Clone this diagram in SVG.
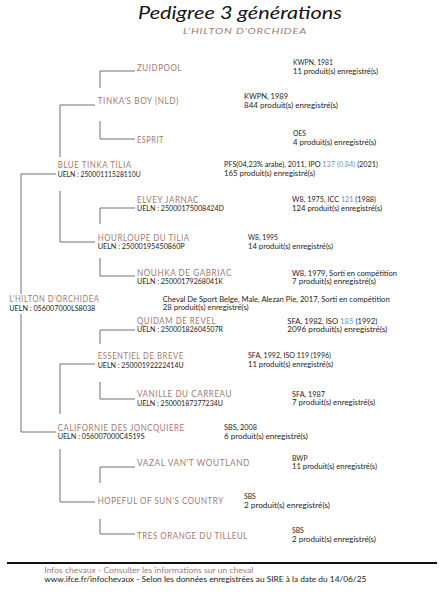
<svg xmlns="http://www.w3.org/2000/svg" width="444" height="600" viewBox="0 0 444 600">
<style>
text{font-family:Lato,"Open Sans","Liberation Sans",sans-serif}
.t{font-size:18px;font-style:italic;font-weight:400;fill:#141414}
.st{font-size:8.5px;font-style:italic;fill:#a47a70;letter-spacing:0.6px}
.n{font-size:8.8px;fill:#a47a70;letter-spacing:0.6px}
.u{font-size:6.6px;fill:#1e1e1e}
.i{font-size:6.8px;fill:#1e1e1e}
.b{fill:#7b8fc4}
.f1{font-size:7.4px;fill:#a47a70}
.f2{font-size:7.4px;fill:#1a1a1a}
.c path{fill:none;stroke:#707070;stroke-width:1}
</style>
<rect width="444" height="600" fill="#fff"/>
<g id="title">
<text class="t" x="138" y="18.5" textLength="204" lengthAdjust="spacingAndGlyphs">Pedigree 3 générations</text>
<text class="st" x="183" y="34" textLength="124" lengthAdjust="spacingAndGlyphs">L'HILTON D'ORCHIDEA</text>
</g>
<g class="c" id="connectors">
<path d="M56 174H21V294M21 314V432H56"/>
<path d="M95 105H60V157M60 191V242H95"/>
<path d="M95 364H60V414M60 449V502H95"/>
<path d="M100 88V71H135M100 121V139H135"/>
<path d="M100 224V208H135M100 258V276H135"/>
<path d="M100 344V330H135M100 382V399H135"/>
<path d="M100 483V467H135M100 519V534H135"/>
</g>
<g id="zuidpool">
<text class="n" x="137" y="71" textLength="45" lengthAdjust="spacingAndGlyphs">ZUIDPOOL</text>
<text class="i" x="293" y="65" textLength="40" lengthAdjust="spacingAndGlyphs">KWPN, 1981</text>
<text class="i" x="293" y="73.5" textLength="85" lengthAdjust="spacingAndGlyphs">11 produit(s) enregistré(s)</text>
</g>
<g id="tinkas-boy">
<text class="n" x="97.7" y="104" textLength="81" lengthAdjust="spacingAndGlyphs">TINKA'S BOY (NLD)</text>
<text class="i" x="244" y="99" textLength="44" lengthAdjust="spacingAndGlyphs">KWPN, 1989</text>
<text class="i" x="244" y="107.5" textLength="94" lengthAdjust="spacingAndGlyphs">844 produit(s) enregistré(s)</text>
</g>
<g id="esprit">
<text class="n" x="137" y="143" textLength="27" lengthAdjust="spacingAndGlyphs">ESPRIT</text>
<text class="i" x="293" y="136">OES</text>
<text class="i" x="293" y="145" textLength="83" lengthAdjust="spacingAndGlyphs">4 produit(s) enregistré(s)</text>
</g>
<g id="blue-tinka-tilia">
<text class="n" x="57.7" y="168" textLength="74" lengthAdjust="spacingAndGlyphs">BLUE TINKA TILIA</text>
<text class="u" x="57.7" y="176.5" textLength="83" lengthAdjust="spacingAndGlyphs">UELN : 25000111528110U</text>
<text class="i" x="224" y="166.7" textLength="154" lengthAdjust="spacingAndGlyphs">PFS(04,23% arabe), 2011, IPO <tspan class="b">137 (0.84)</tspan> (2021)</text>
<text class="i" x="224" y="175.7" textLength="91" lengthAdjust="spacingAndGlyphs">165 produit(s) enregistré(s)</text>
</g>
<g id="elvey-jarnac">
<text class="n" x="137" y="203" textLength="62" lengthAdjust="spacingAndGlyphs">ELVEY JARNAC</text>
<text class="u" x="137" y="211.3" textLength="87" lengthAdjust="spacingAndGlyphs">UELN : 25000175008424D</text>
<text class="i" x="292" y="202" textLength="84" lengthAdjust="spacingAndGlyphs">W8, 1975, ICC <tspan class="b">121</tspan> (1988)</text>
<text class="i" x="292" y="211" textLength="90" lengthAdjust="spacingAndGlyphs">124 produit(s) enregistré(s)</text>
</g>
<g id="hourloupe-du-tilia">
<text class="n" x="97.7" y="241" textLength="92" lengthAdjust="spacingAndGlyphs">HOURLOUPE DU TILIA</text>
<text class="u" x="97.7" y="249.3" textLength="87" lengthAdjust="spacingAndGlyphs">UELN : 25000195450860P</text>
<text class="i" x="248" y="240" textLength="30" lengthAdjust="spacingAndGlyphs">W8, 1995</text>
<text class="i" x="248" y="249" textLength="85" lengthAdjust="spacingAndGlyphs">14 produit(s) enregistré(s)</text>
</g>
<g id="nouhka-de-gabriac">
<text class="n" x="137" y="276" textLength="95" lengthAdjust="spacingAndGlyphs">NOUHKA DE GABRIAC</text>
<text class="u" x="137" y="284.3" textLength="86" lengthAdjust="spacingAndGlyphs">UELN : 25000179268041K</text>
<text class="i" x="292" y="275.7" textLength="105" lengthAdjust="spacingAndGlyphs">W8, 1979, Sorti en compétition</text>
<text class="i" x="292" y="283.7" textLength="84" lengthAdjust="spacingAndGlyphs">7 produit(s) enregistré(s)</text>
</g>
<g id="lhilton-dorchidea">
<text class="n" x="9.3" y="302.3" textLength="90" lengthAdjust="spacingAndGlyphs">L'HILTON D'ORCHIDEA</text>
<text class="u" x="9.3" y="310.7" textLength="86" lengthAdjust="spacingAndGlyphs">UELN : 056007000LS8038</text>
<text class="i" x="162.7" y="302" textLength="227" lengthAdjust="spacingAndGlyphs">Cheval De Sport Belge, Male, Alezan Pie, 2017, Sorti en compétition</text>
<text class="i" x="162.7" y="310.3" textLength="86" lengthAdjust="spacingAndGlyphs">28 produit(s) enregistré(s)</text>
</g>
<g id="quidam-de-revel">
<text class="n" x="137" y="324" textLength="79" lengthAdjust="spacingAndGlyphs">QUIDAM DE REVEL</text>
<text class="u" x="137" y="332.3" textLength="86" lengthAdjust="spacingAndGlyphs">UELN : 25000182604507R</text>
<text class="i" x="287.3" y="324" textLength="90" lengthAdjust="spacingAndGlyphs">SFA, 1982, ISO <tspan class="b">185</tspan> (1992)</text>
<text class="i" x="287.3" y="332.3" textLength="100" lengthAdjust="spacingAndGlyphs">2096 produit(s) enregistré(s)</text>
</g>
<g id="essentiel-de-breve">
<text class="n" x="97.7" y="359" textLength="86" lengthAdjust="spacingAndGlyphs">ESSENTIEL DE BREVE</text>
<text class="u" x="97.7" y="367.7" textLength="86" lengthAdjust="spacingAndGlyphs">UELN : 25000192222414U</text>
<text class="i" x="248" y="358" textLength="83" lengthAdjust="spacingAndGlyphs">SFA, 1992, ISO 119 (1996)</text>
<text class="i" x="248" y="366.7" textLength="85" lengthAdjust="spacingAndGlyphs">11 produit(s) enregistré(s)</text>
</g>
<g id="vanille-du-carreau">
<text class="n" x="137" y="397" textLength="95" lengthAdjust="spacingAndGlyphs">VANILLE DU CARREAU</text>
<text class="u" x="137" y="405.7" textLength="86" lengthAdjust="spacingAndGlyphs">UELN : 25000187377234U</text>
<text class="i" x="292" y="396.7" textLength="33" lengthAdjust="spacingAndGlyphs">SFA, 1987</text>
<text class="i" x="292" y="405" textLength="83" lengthAdjust="spacingAndGlyphs">7 produit(s) enregistré(s)</text>
</g>
<g id="californie-des-joncquiere">
<text class="n" x="57.7" y="431" textLength="127" lengthAdjust="spacingAndGlyphs">CALIFORNIE DES JONCQUIERE</text>
<text class="u" x="57.7" y="439.3" textLength="87" lengthAdjust="spacingAndGlyphs">UELN : 056007000C4519S</text>
<text class="i" x="224" y="430" textLength="33" lengthAdjust="spacingAndGlyphs">SBS, 2008</text>
<text class="i" x="224" y="439" textLength="84" lengthAdjust="spacingAndGlyphs">6 produit(s) enregistré(s)</text>
</g>
<g id="vazal-vant-woutland">
<text class="n" x="137" y="466" textLength="113" lengthAdjust="spacingAndGlyphs">VAZAL VAN'T WOUTLAND</text>
<text class="i" x="292" y="461">BWP</text>
<text class="i" x="292" y="469.3" textLength="85" lengthAdjust="spacingAndGlyphs">11 produit(s) enregistré(s)</text>
</g>
<g id="hopeful-of-suns-country">
<text class="n" x="97.7" y="504" textLength="126" lengthAdjust="spacingAndGlyphs">HOPEFUL OF SUN'S COUNTRY</text>
<text class="i" x="244" y="499">SBS</text>
<text class="i" x="244" y="507.7" textLength="86" lengthAdjust="spacingAndGlyphs">2 produit(s) enregistré(s)</text>
</g>
<g id="tres-orange-du-tilleul">
<text class="n" x="137" y="539" textLength="111" lengthAdjust="spacingAndGlyphs">TRES ORANGE DU TILLEUL</text>
<text class="i" x="292" y="533">SBS</text>
<text class="i" x="292" y="542" textLength="84" lengthAdjust="spacingAndGlyphs">2 produit(s) enregistré(s)</text>
</g>
<g id="footer">
<line x1="7" y1="563" x2="437" y2="563" stroke="#111" stroke-width="2"/>
<text class="f1" x="44.3" y="573.3" textLength="209" lengthAdjust="spacingAndGlyphs">Infos chevaux - Consulter les informations sur un cheval</text>
<text class="f2" x="44.3" y="581.5" textLength="322" lengthAdjust="spacingAndGlyphs">www.ifce.fr/infochevaux - Selon les données enregistrées au SIRE à la date du 14/06/25</text>
</g>
</svg>
